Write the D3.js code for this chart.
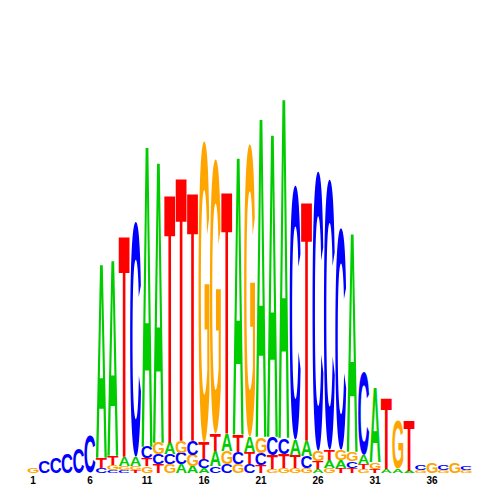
<!DOCTYPE html>
<html>
<head>
<meta charset="utf-8">
<script src="https://cdn.jsdelivr.net/npm/d3@7"></script>
<style>
  html, body { margin: 0; padding: 0; background: #fff; }
</style>
</head>
<body>
<svg id="logo" width="500" height="500"></svg>
<script>
// information content (bits) per letter, positions 1..39
var positions = d3.range(1, 40)
var tickLabels = [1, 6, 11, 16, 21, 26, 31, 36]

var bitsA = [0, 0, 0, 0, 0, 0, 0.97, 0.98, 0.045, 0.045,
  1.505, 1.405, 0.055, 0.045, 0.035, 0.025, 0.075, 0.085, 1.39, 0.075,
  1.595, 1.515, 1.70, 0.075, 0.075, 0.02, 0.04, 0.04, 1.095, 0.045,
  0.37, 0.02, 0.02, 0.01, 0, 0, 0, 0, 0]
var bitsC = [0, 0.06, 0.075, 0.095, 0.125, 0.185, 0.025, 0.015, 0.015, 1.165,
  0.055, 0.05, 0.05, 0.055, 0.07, 0.045, 0.035, 0.045, 0.06, 0.045,
  0.06, 0.09, 0.08, 1.26, 0.06, 1.385, 1.34, 1.10, 0.035, 0.41,
  0, 0, 0, 0, 0.025, 0, 0.025, 0, 0.0175]
var bitsG = [0.025, 0, 0, 0, 0, 0, 0, 0.025, 0.02, 0.02,
  0.035, 0.055, 0.045, 0.06, 0.055, 1.495, 1.36, 0.065, 0.045, 1.45,
  0.08, 0.02, 0.025, 0.025, 0.025, 0.05, 0.025, 0.05, 0.045, 0.02,
  0.035, 0, 0.24, 0, 0.015, 0.05, 0.015, 0.05, 0.0125]
var bitsT = [0, 0, 0, 0, 0, 0, 0.05, 0.045, 1.105, 0.015,
  0.04, 0.045, 1.24, 1.315, 1.24, 0.08, 0.085, 1.21, 0.085, 0.06,
  0.04, 0.07, 0.07, 0.065, 1.195, 0.04, 0.05, 0.025, 0.025, 0.025,
  0.02, 0.355, 0, 0.25, 0, 0, 0, 0, 0]

var letterColor = { A: '#00cc00', C: '#0000ff', G: '#ffa500', T: '#ff0000' }
var fontFamily = '"Liberation Sans", Arial, Helvetica, sans-serif'

var svg = d3.select('#logo')

var x = d3.scaleBand()
  .domain(positions)
  .range([27.3, 471.9])
  .padding(0)

var y = d3.scaleLinear()
  .domain([0, 2])
  .range([473, 69])

// measure the ink box of each glyph so it can be stretched to fill its cell
var ctx = document.createElement('canvas').getContext('2d')
ctx.font = 'bold 100px ' + fontFamily
var ink = {}
;['A', 'C', 'G', 'T'].forEach(function(l) {
  var m = ctx.measureText(l)
  ink[l] = {
    left: -m.actualBoundingBoxLeft,
    top: -m.actualBoundingBoxAscent,
    w: m.actualBoundingBoxLeft + m.actualBoundingBoxRight,
    h: m.actualBoundingBoxAscent + m.actualBoundingBoxDescent
  }
})

// build stacks: smallest at the bottom, largest on top
var cells = []
positions.forEach(function(p, i) {
  var col = [
    { letter: 'A', bits: bitsA[i] },
    { letter: 'C', bits: bitsC[i] },
    { letter: 'G', bits: bitsG[i] },
    { letter: 'T', bits: bitsT[i] }
  ].filter(function(d) { return d.bits > 0 })
    .sort(function(a, b) { return a.bits - b.bits })
  var base = 0
  col.forEach(function(d) {
    cells.push({ pos: p, letter: d.letter, y0: base, y1: base + d.bits })
    base += d.bits
  })
})

var glyphW = x.bandwidth() * 0.96

svg.append('g')
  .attr('class', 'letters')
  .selectAll('text')
  .data(cells)
  .enter()
  .append('text')
  .text(function(d) { return d.letter })
  .attr('font-family', fontFamily)
  .attr('font-weight', 'bold')
  .attr('font-size', 100)
  .attr('fill', function(d) { return letterColor[d.letter] })
  .attr('transform', function(d) {
    var g = ink[d.letter]
    var x0 = x(d.pos) + (x.bandwidth() - glyphW) / 2
    var top = y(d.y1)
    var h = y(d.y0) - y(d.y1)
    return 'translate(' + x0 + ',' + top + ') scale(' + (glyphW / g.w) + ',' + (h / g.h) +
      ') translate(' + (-g.left) + ',' + (-g.top) + ')'
  })

svg.append('g')
  .attr('class', 'ticks')
  .selectAll('text')
  .data(tickLabels)
  .enter()
  .append('text')
  .attr('x', function(d) { return x(d) + x.bandwidth() / 2 })
  .attr('y', 484)
  .attr('text-anchor', 'middle')
  .attr('font-family', fontFamily)
  .attr('font-weight', 'bold')
  .attr('font-size', 10)
  .attr('fill', '#000')
  .text(function(d) { return d })
</script>
</body>
</html>
